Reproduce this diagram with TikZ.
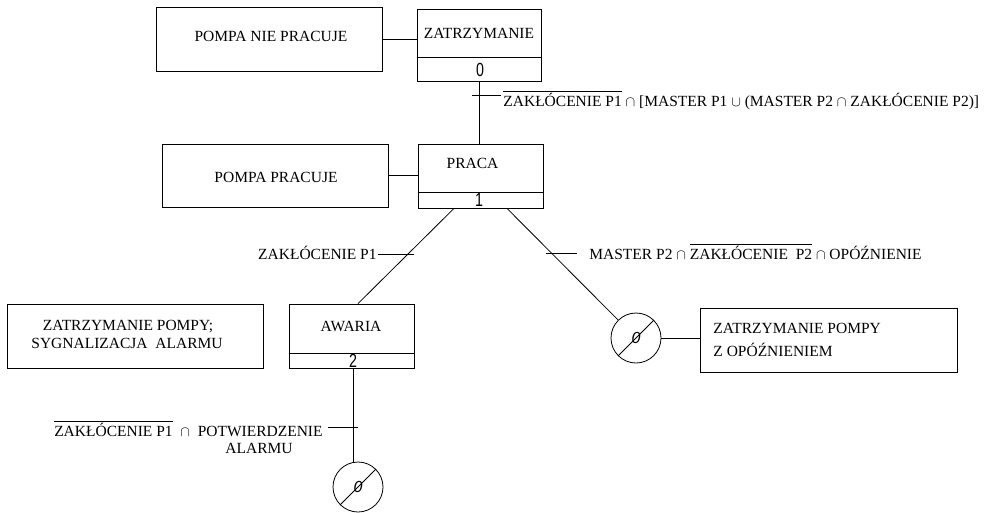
\documentclass[tikz,border=0pt]{standalone}
\usepackage{fontspec}
\usepackage{graphicx}
\setmainfont{Liberation Serif}
\newfontfamily\digitfont{Liberation Sans}
\newcommand\fs{\fontsize{15.5}{18}\selectfont}
\newcommand\dg[1]{\scalebox{0.75}[1]{#1}}
\begin{document}
\begin{tikzpicture}[x=1pt,y=-1pt,
  line width=0.8pt,
  box/.style={draw=black, line width=0.8pt, rectangle, inner sep=0pt},
  txt/.style={inner sep=0pt, font=\fs, text height=10pt, text depth=0pt},
  num/.style={inner sep=0pt, font=\digitfont\fontsize{19}{19}\selectfont},
  zero/.style={inner sep=0pt, font=\digitfont\itshape\fontsize{16}{16}\selectfont}
]
\useasboundingbox (0,0) rectangle (989,512);
% boxes
\node[box, minimum width=226pt, minimum height=64pt] (n1) at (269,39) {};
\node[box, minimum width=124pt, minimum height=72pt] (s0) at (479,45) {};
\node[box, minimum width=226pt, minimum height=63pt] (n2) at (275,175.5) {};
\node[box, minimum width=125pt, minimum height=64pt] (s1) at (480.5,176) {};
\node[box, minimum width=256pt, minimum height=64pt] (n3) at (135,336) {};
\node[box, minimum width=125pt, minimum height=64pt] (s2) at (351.5,336) {};
\node[box, minimum width=257pt, minimum height=64pt] (n4) at (828.5,340) {};
\node[circle, draw=black, line width=0.8pt, minimum size=50pt, inner sep=0pt] (c1) at (636,338) {};
\node[circle, draw=black, line width=0.8pt, minimum size=50pt, inner sep=0pt] (c2) at (358,487) {};
% dividers
\draw ([yshift=24pt]s0.south west) -- ([yshift=24pt]s0.south east);
\draw ([yshift=16pt]s1.south west) -- ([yshift=16pt]s1.south east);
\draw ([yshift=15pt]s2.south west) -- ([yshift=15pt]s2.south east);
\draw (c1.225) -- (c1.45);
\draw (c2.225) -- (c2.45);
% box texts
\node[txt] (t1) at (271,36) {POMPA NIE PRACUJE};
\node[txt] (t0) at (479,33) {ZATRZYMANIE};
\node[num] (d0) at (480,70) {\dg{0}};
\node[txt] (t2) at (276,177) {POMPA PRACUJE};
\node[txt] (t3) at (472.5,163) {PRACA};
\node[num] (d1) at (479,200) {\dg{1}};
\node[txt] (t4) at (128,325) {ZATRZYMANIE POMPY;};
\node[txt] (t5) at (127,343) {SYGNALIZACJA\ \ ALARMU};
\node[txt] (t6) at (351,326) {AWARIA};
\node[num] (d2) at (353,361) {\dg{2}};
\node[txt, anchor=west] (t7) at (713,328) {ZATRZYMANIE POMPY};
\node[txt, anchor=west] (t8) at (713,351) {Z OPÓŹNIENIEM};
\node[zero] (z1) at (c1) {0};
\node[zero] (z2) at (c2) {0};
% connectors
\draw (n1.east) -- (s0.west |- n1.east);
\draw (s0.south) -- (s0.south |- s1.north);
\draw (n2.east) -- (s1.west |- n2.east);
\draw ([xshift=-26.5pt]s1.south) -- ([xshift=6.5pt]s2.north);
\draw ([xshift=26.5pt]s1.south) -- (c1);
\draw ([xshift=1.5pt]s2.south) -- ([xshift=1.5pt]s2.south |- c2.north);
\draw (c1.east) -- (c1.east -| n4.west);
% transition ticks
\coordinate (k0a) at (472,95); \coordinate (k0b) at (501,95);
\coordinate (k1a) at (378,254); \coordinate (k1b) at (414,254);
\coordinate (k2a) at (546,253); \coordinate (k2b) at (577,253);
\coordinate (k3a) at (328,427); \coordinate (k3b) at (358,427);
\draw (k0a) -- (k0b);
\draw (k1a) -- (k1b);
\draw (k2a) -- (k2b);
\draw (k3a) -- (k3b);
% transition labels
\node[txt, anchor=west] (l0) at (503,101) {$\overline{\hbox{ZAKŁÓCENIE P1}}$ $\cap$ [MASTER P1 $\cup$ (MASTER P2 $\cap$ ZAKŁÓCENIE P2)]};
\node[txt, anchor=east] (l1) at (377,254) {ZAKŁÓCENIE P1};
\node[txt, anchor=west] (l2) at (589,254) {MASTER P2 $\cap$ $\overline{\hbox{ZAKŁÓCENIE\ \ P2}}$ $\cap$ OPÓŹNIENIE};
\node[txt, anchor=east] (l3) at (323,431) {$\overline{\hbox{ZAKŁÓCENIE\ P1}}$ \ $\cap$ \ POTWIERDZENIE};
\node[txt] (l4) at (259,448) {ALARMU};
\end{tikzpicture}
\end{document}
